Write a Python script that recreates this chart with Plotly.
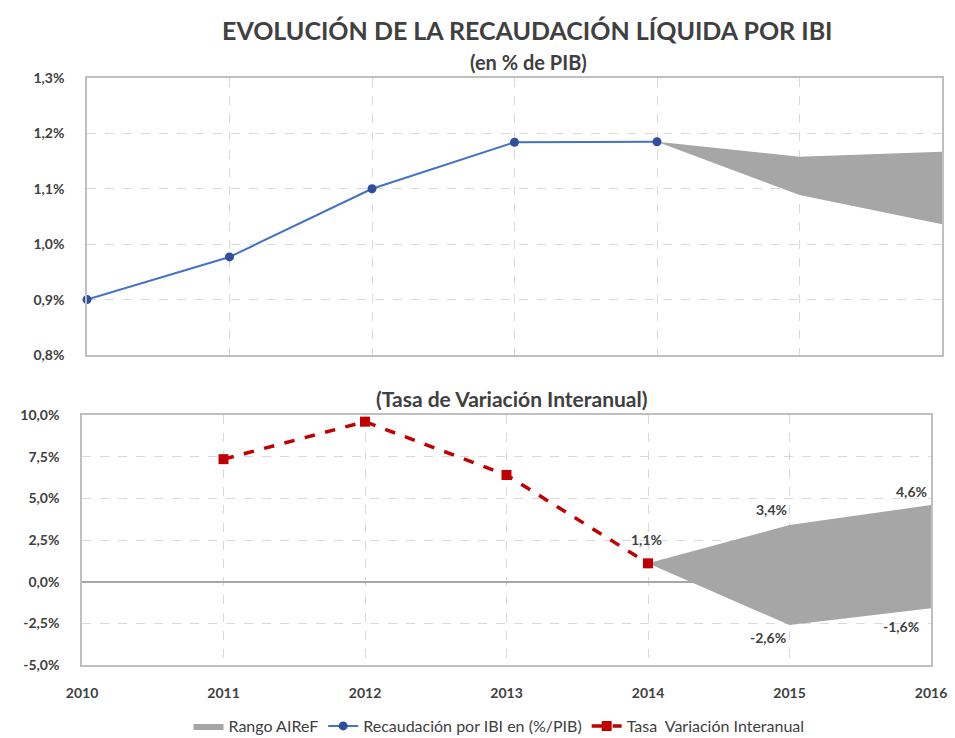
import plotly.graph_objects as go

# ---- data ----
years = [2010, 2011, 2012, 2013, 2014, 2015, 2016]
ibi_years = [2010, 2011, 2012, 2013, 2014]
ibi_pib = [0.90, 0.977, 1.10, 1.184, 1.185]          # % of PIB
band_years = [2014, 2015, 2016]
band_pib_upper = [1.185, 1.158, 1.167]
band_pib_lower = [1.185, 1.089, 1.036]

tasa_years = [2011, 2012, 2013, 2014]
tasa = [7.35, 9.6, 6.4, 1.1]                          # % interannual change
band_tasa_upper = [1.1, 3.4, 4.6]
band_tasa_lower = [1.1, -2.6, -1.6]

top_ticks = [0.8, 0.9, 1.0, 1.1, 1.2, 1.3]
bot_ticks = [-5.0, -2.5, 0.0, 2.5, 5.0, 7.5, 10.0]

# ---- style ----
FONT = "Lato"
TXT = "#404040"
GRID = "#D9D9D9"
BORDER = "#BFBFBF"
BAND = "#A6A6A6"
BLUE = "#4472C4"
BLUE_M = "#2F4F9A"
RED = "#C00000"

W, H = 955, 738
def px_x(p): return p / W
def px_y(p): return 1 - p / H

def fmt(v):
    return ("%.1f" % v).replace(".", ",") + "%"

fig = go.Figure()

# top band
fig.add_trace(go.Scatter(
    x=band_years + band_years[::-1],
    y=band_pib_upper + band_pib_lower[::-1],
    fill="toself", fillcolor=BAND, line=dict(width=0, color=BAND),
    mode="lines", name="Rango AIReF", showlegend=True,
    hoverinfo="skip", xaxis="x", yaxis="y"))
# top line
fig.add_trace(go.Scatter(
    x=ibi_years, y=ibi_pib, mode="lines+markers",
    line=dict(color=BLUE, width=2),
    marker=dict(color=BLUE_M, size=9, symbol="circle"),
    cliponaxis=False,
    name="Recaudación por IBI en (%/PIB)", xaxis="x", yaxis="y"))
# bottom band
fig.add_trace(go.Scatter(
    x=band_years + band_years[::-1],
    y=band_tasa_upper + band_tasa_lower[::-1],
    fill="toself", fillcolor=BAND, line=dict(width=0, color=BAND),
    mode="lines", name="Rango AIReF", showlegend=False,
    hoverinfo="skip", xaxis="x2", yaxis="y2"))
# bottom line
fig.add_trace(go.Scatter(
    x=tasa_years, y=tasa, mode="lines+markers",
    line=dict(color=RED, width=3.5, dash="dash"),
    marker=dict(color=RED, size=10, symbol="square"),
    cliponaxis=False,
    name="Tasa  Variación Interanual", xaxis="x2", yaxis="y2"))

LBL = dict(family=FONT, size=14, color=TXT, weight="bold")
annotations = []
annotations.append(dict(x=tasa_years[-1], y=tasa[-1], xref="x2", yref="y2",
                        text=fmt(tasa[-1]), showarrow=False, yshift=24, xshift=-2))
annotations.append(dict(x=band_years[1], y=band_tasa_upper[1], xref="x2", yref="y2",
                        text=fmt(band_tasa_upper[1]), showarrow=False, yshift=16, xshift=-18))
annotations.append(dict(x=band_years[2], y=band_tasa_upper[2], xref="x2", yref="y2",
                        text=fmt(band_tasa_upper[2]), showarrow=False, yshift=14, xshift=-20))
annotations.append(dict(x=band_years[1], y=band_tasa_lower[1], xref="x2", yref="y2",
                        text=fmt(band_tasa_lower[1]), showarrow=False, yshift=-12, xshift=-22))
annotations.append(dict(x=band_years[2], y=band_tasa_lower[2], xref="x2", yref="y2",
                        text=fmt(band_tasa_lower[2]), showarrow=False, yshift=-18, xshift=-30))
for a in annotations:
    a["font"] = LBL

# titles
annotations.append(dict(x=px_x(527), y=px_y(30), xref="paper", yref="paper",
                        xanchor="center", yanchor="middle",
                        text="<b>EVOLUCIÓN DE LA RECAUDACIÓN LÍQUIDA POR IBI</b>",
                        showarrow=False, font=dict(family=FONT, size=25, color=TXT)))
annotations.append(dict(x=px_x(528), y=px_y(62), xref="paper", yref="paper",
                        xanchor="center", yanchor="middle",
                        text="<b>(en % de PIB)</b>",
                        showarrow=False, font=dict(family=FONT, size=20, color=TXT)))
annotations.append(dict(x=px_x(511), y=px_y(398), xref="paper", yref="paper",
                        xanchor="center", yanchor="middle",
                        text="<b>(Tasa de Variación Interanual)</b>",
                        showarrow=False, font=dict(family=FONT, size=21, color=TXT)))

axis_common = dict(showgrid=True, gridcolor=GRID, griddash="dash", gridwidth=1,
                   showline=True, linecolor=BORDER, linewidth=1.5, mirror=True,
                   zeroline=False, ticks="", automargin=False,
                   tickfont=dict(family=FONT, size=14, color=TXT, weight="bold"))

fig.update_layout(
    width=W, height=H,
    margin=dict(l=0, r=0, t=0, b=0, autoexpand=False),
    paper_bgcolor="white", plot_bgcolor="white",
    font=dict(family=FONT, size=14, color=TXT),
    xaxis=dict(axis_common, domain=[px_x(87), px_x(942)], range=[2010, 2016],
               tickvals=years, showticklabels=False, anchor="y"),
    yaxis=dict(axis_common, domain=[px_y(355), px_y(78)], range=[0.8, 1.3],
               tickvals=top_ticks, ticktext=[fmt(v) for v in top_ticks],
               ticklabelstandoff=18, anchor="x"),
    xaxis2=dict(axis_common, domain=[px_x(82), px_x(931)], range=[2010, 2016],
                tickvals=years, ticktext=[str(y) for y in years],
                ticklabelstandoff=14, anchor="y2"),
    yaxis2=dict(axis_common, domain=[px_y(665), px_y(415)], range=[-5, 10],
                tickvals=bot_ticks, ticktext=[fmt(v) for v in bot_ticks],
                ticklabelstandoff=18, anchor="x2",
                zeroline=True, zerolinecolor="#A6A6A6", zerolinewidth=2),
    legend=dict(orientation="h", x=px_x(499), xanchor="center", y=px_y(726), yanchor="middle",
                font=dict(family=FONT, size=16, color=TXT), traceorder="normal",
                bgcolor="rgba(0,0,0,0)"),
    annotations=annotations,
    showlegend=True,
)

fig.write_html("out.html", config={"displayModeBar": False},
               post_script="document.body.style.margin='0';")
